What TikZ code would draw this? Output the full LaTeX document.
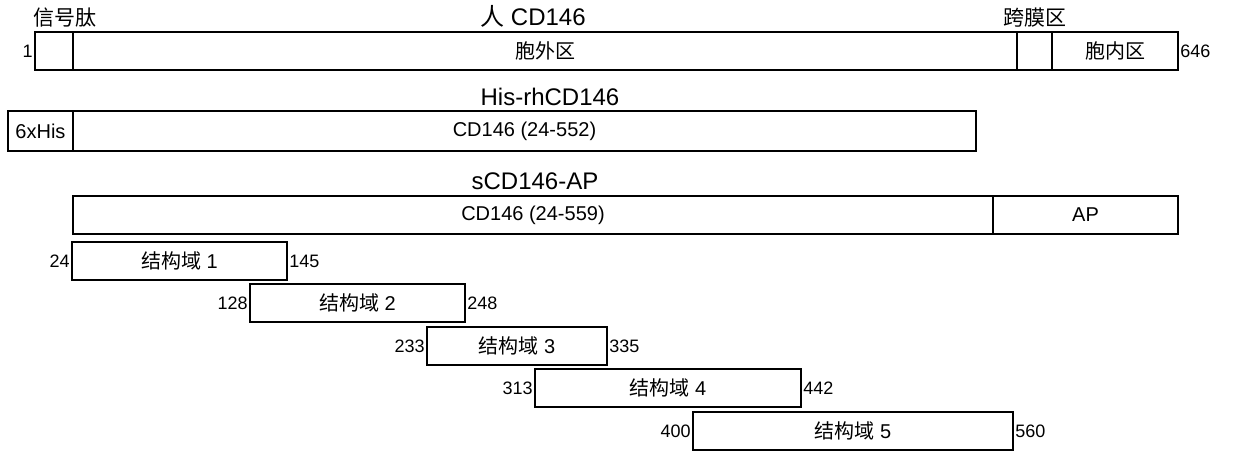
\documentclass[tikz,border=0pt]{standalone}
\usepackage{fontspec}
\setmainfont{Liberation Sans}
\newfontfamily\cjk{Noto Sans CJK SC}
\usepackage{tikz}
\usetikzlibrary{positioning}

\begin{document}
\begin{tikzpicture}[
  x=0.5pt, y=-0.5pt,
  font=\fontsize{10}{12}\selectfont,
  seg/.style={
    rectangle, draw=black, line width=0.7pt, outer sep=0pt, inner sep=0pt,
    minimum height=19pt, anchor=north west
  },
  title/.style={inner sep=1pt, font=\fontsize{12}{14}\selectfont},
  num/.style={inner sep=1pt, font=\fontsize{9}{11}\selectfont},
  caplab/.style={inner sep=1pt, font=\cjk\fontsize{10.5}{12}\selectfont}
]
\useasboundingbox (0,0) rectangle (1235,450);

% Full-length CD146
\node[seg, minimum width=19pt] (sp) at (35,32) {};
\node[seg, right=0pt of sp, minimum width=472pt] (ecd) {\cjk 胞外区};
\node[seg, right=0pt of ecd, minimum width=17.5pt] (tm) {};
\node[seg, right=0pt of tm, minimum width=63pt] (icd) {\cjk 胞内区};
\draw[line width=1.4pt] (tm.north east) -- (tm.south east);

% Region labels
\node[caplab, above=1pt of sp.north west, anchor=south west, xshift=-2pt] (sp-lab) {信号肽};
\node[title, above=1pt of ecd, xshift=-6pt] (cd146-lab) {{\cjk 人} CD146};
\node[caplab, above=1pt of tm] (tm-lab) {跨膜区};
\node[num, left=0pt of sp] (n1) {1};
\node[num, right=0pt of icd] (n646) {646};

% His-tagged construct
\node[title] (his-title) at (550,97) {His-rhCD146};
\node[seg, minimum width=32.5pt, minimum height=20pt] (his) at (8,111) {6xHis};
\node[seg, right=0pt of his, minimum width=451.5pt, minimum height=20pt] (cd552) {CD146 (24-552)};

% AP fusion construct
\node[title] (ap-title) at (535,181) {sCD146-AP};
\node[seg, minimum width=460pt] (cd559) at (73,196) {CD146 (24-559)};
\node[seg, right=0pt of cd559, minimum width=92.5pt] (ap) {AP};

% Domains
\node[seg, minimum width=107.5pt] (d1) at (72,242) {{\cjk 结构域} 1};
\node[seg, minimum width=107.5pt] (d2) at (250,284) {{\cjk 结构域} 2};
\node[seg, minimum width=90pt] (d3) at (427,327) {{\cjk 结构域} 3};
\node[seg, minimum width=133pt] (d4) at (535,369) {{\cjk 结构域} 4};
\node[seg, minimum width=160pt] (d5) at (693,412) {{\cjk 结构域} 5};

% Domain boundaries
\node[num, left=0pt of d1] (d1-lo) {24};
\node[num, right=0pt of d1] (d1-hi) {145};
\node[num, left=0pt of d2] (d2-lo) {128};
\node[num, right=0pt of d2] (d2-hi) {248};
\node[num, left=0pt of d3] (d3-lo) {233};
\node[num, right=0pt of d3] (d3-hi) {335};
\node[num, left=0pt of d4] (d4-lo) {313};
\node[num, right=0pt of d4] (d4-hi) {442};
\node[num, left=0pt of d5] (d5-lo) {400};
\node[num, right=0pt of d5] (d5-hi) {560};

\end{tikzpicture}
\end{document}
